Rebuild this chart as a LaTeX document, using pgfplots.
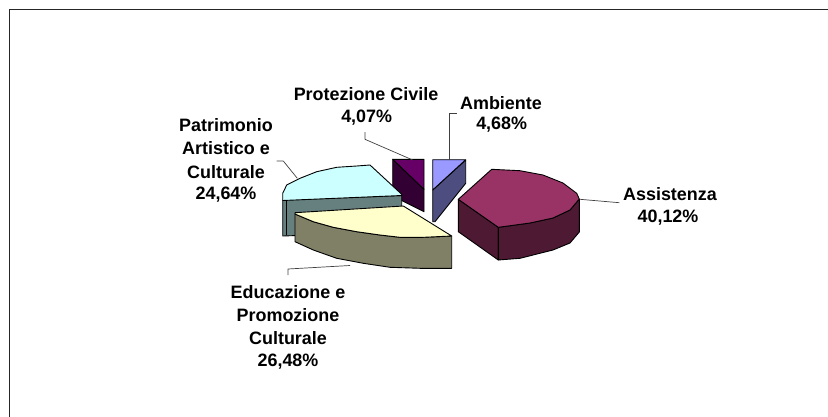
\documentclass[border=0pt]{standalone}
\usepackage{pgfplots}
\pgfplotsset{compat=1.18}
\usepackage{fontspec}
\setmainfont{Liberation Sans}
\definecolor{assT}{HTML}{993366}
\definecolor{assS}{HTML}{4D1933}
\definecolor{eduT}{HTML}{FFFFCC}
\definecolor{eduS}{HTML}{808066}
\definecolor{patT}{HTML}{CCFFFF}
\definecolor{patS}{HTML}{668080}
\definecolor{proT}{HTML}{660066}
\definecolor{proS}{HTML}{330033}
\definecolor{ambT}{HTML}{9999FF}
\definecolor{ambS}{HTML}{4D4D80}
\begin{document}
\begin{tikzpicture}
\path[use as bounding box] (0,0) rectangle (828bp,417bp);
\begin{axis}[x=1bp,y=1bp,xmin=0,xmax=828,ymin=0,ymax=417,y dir=reverse,
  hide axis,clip=false,anchor=south west,at={(0,0)},
  every axis plot/.append style={line width=0.9bp,line join=round}]
% frame
\draw[line width=1.5bp,color=black!85] (axis cs:828,9.5) -- (axis cs:9.5,9.5) -- (axis cs:9.5,417);
% Protezione Civile box
\addplot[draw=black,fill=proS] coordinates {(392.7,159.3) (424,189.3) (424,211.7) (392.7,196)} -- cycle;
\addplot[draw=black,fill=proT] coordinates {(392.7,159.3) (424,159.3) (424,189.3)} -- cycle;
% Ambiente box
\addplot[draw=black,fill=ambS] coordinates {(432.7,190) (465.7,160) (465.7,183.3) (435,221.7) (432.7,221.7)} -- cycle;
\addplot[draw=black,fill=ambT] coordinates {(432.7,159.7) (465.7,159.7) (432.7,190)} -- cycle;
% Patrimonio
\addplot[draw=black,fill=patS] coordinates {(282.7,200) (401.7,195.5) (401.7,232) (282.7,236)} -- cycle;
\addplot[draw=black,fill=patT] coordinates {(282.7,200.5) (282.7,193.3) (286.7,185) (300,178.3) (316.7,171.7) (336.7,167.3) (356.7,166) (370,165) (401.7,194.3) (401.7,195.5)} -- cycle;
\addplot[draw=black] coordinates {(286,200) (286,235)};
% Assistenza
\addplot[draw=black,fill=assS] coordinates {(458.3,199.3) (498.3,227.3) (498.3,260) (458.3,231.7)} -- cycle;
\addplot[draw=black,fill=assS] coordinates {(498.3,227.3) (530,223) (553,218) (570,210) (579.3,199) (579.3,232) (570,243) (553,250) (520,258.3) (498.3,260)} -- cycle;
\addplot[draw=black,fill=assT] coordinates {(458.3,199.3) (491.7,169.3) (520,170.7) (543,175) (563,183) (576.7,193.3) (579.3,199) (570,210) (553,218) (530,223) (498.3,227.3)} -- cycle;
% Educazione
\addplot[draw=black,fill=eduS] coordinates {(295,214) (313.3,221.7) (333.3,227.3) (356.7,231.7) (380,235) (400,237.3) (423.3,237.3) (451.7,236) (451.7,268.3) (420,268.3) (390,267.3) (363.3,263.3) (336.7,258.3) (313.3,250) (295,241.7)} -- cycle;
\addplot[draw=black,fill=eduT] coordinates {(295,212.7) (403.3,206) (451.7,236) (423.3,237.3) (400,237.3) (380,235) (356.7,231.7) (333.3,227.3) (313.3,221.7) (295,214)} -- cycle;
% leader lines
\addplot[draw=black!75,line width=0.7bp] coordinates {(449.3,160) (449.3,113.3) (456.7,113.3)};
\addplot[draw=black!75,line width=0.7bp] coordinates {(412.7,160) (365,139.3) (365,132)};
\addplot[draw=black!75,line width=0.7bp] coordinates {(297.3,178.3) (283.3,161) (276.7,161)};
\addplot[draw=black!75,line width=0.7bp] coordinates {(288,275) (288,269) (350,265.5)};
\addplot[draw=black!75,line width=0.7bp] coordinates {(580,199.3) (619.3,202.7)};
% labels
\begin{scope}[every node/.style={font=\fontsize{18}{21}\selectfont\bfseries,inner sep=0pt,anchor=center}]
\node at (axis cs:366,94) {Protezione Civile};
\node at (axis cs:366.7,118) {4,07\%};
\node at (axis cs:501,103) {Ambiente};
\node at (axis cs:501.7,124.5) {4,68\%};
\node at (axis cs:226,125) {Patrimonio};
\node at (axis cs:226,148.3) {Artistico e};
\node at (axis cs:226,171.7) {Culturale};
\node at (axis cs:226,195) {24,64\%};
\node at (axis cs:288,292) {Educazione e};
\node at (axis cs:288,315.5) {Promozione};
\node at (axis cs:288,338.5) {Culturale};
\node at (axis cs:288,361.5) {26,48\%};
\node at (axis cs:670,194) {Assistenza};
\node at (axis cs:668,218) {40,12\%};
\end{scope}
\end{axis}
\end{tikzpicture}
\end{document}
